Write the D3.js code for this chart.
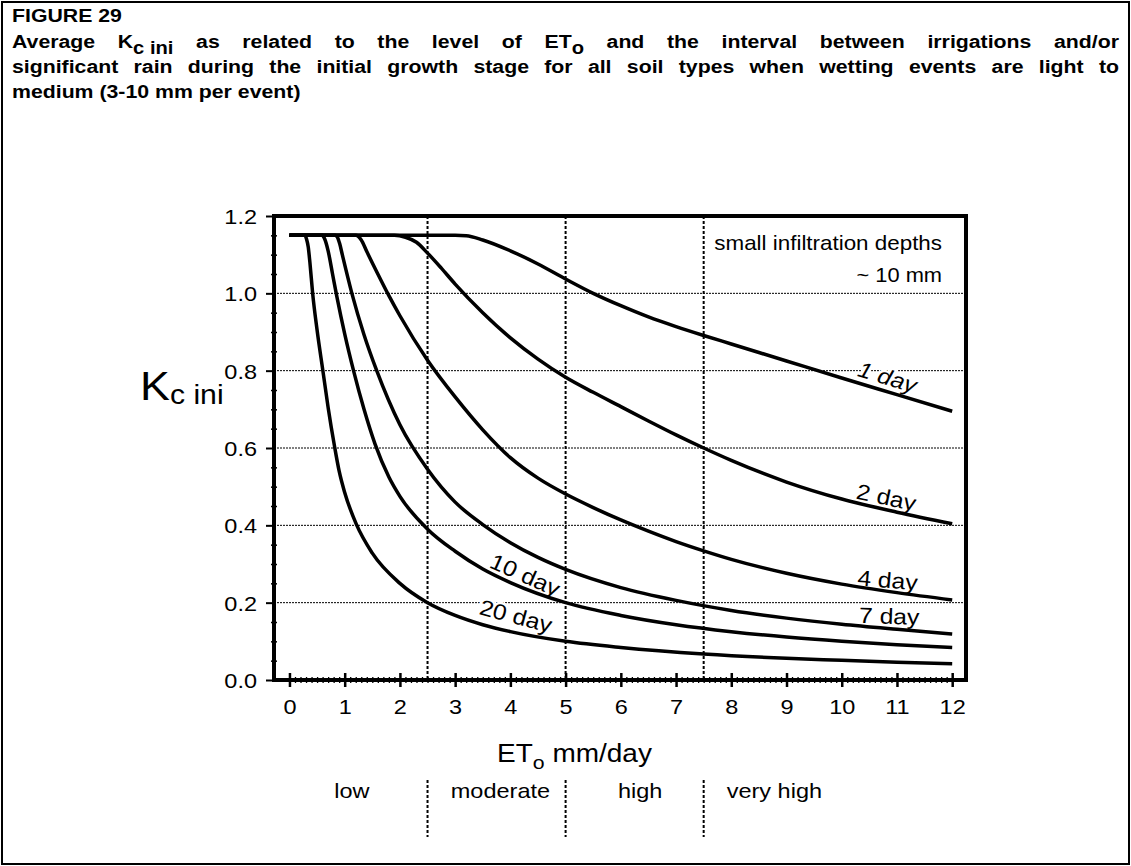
<!DOCTYPE html>
<html><head><meta charset="utf-8">
<script src="https://cdn.jsdelivr.net/npm/d3@7"></script>
<style>
body{margin:0;background:#fff}
svg{display:block}
text{font-family:"Liberation Sans",Arial,Helvetica,sans-serif;fill:#000}
</style>
</head><body>
<svg id="chart" width="1131" height="866"></svg>
<script>
// ---------- DATA ----------
const xTickValues = [0,1,2,3,4,5,6,7,8,9,10,11,12];
const yTickValues = [0,0.2,0.4,0.6,0.8,1.0,1.2];
const gridY = [0.2,0.4,0.6,0.8,1.0];
const classBounds = [2.5,5,7.5];
const classNames = ["low","moderate","high","very high"];
const seriesNames = ["1 day","2 day","4 day","7 day","10 day","20 day"];

const et1 = [0,3.0,3.2,3.5,4.0,4.5,5.0,5.5,6.0,6.5,7.0,7.5,8.0,9.0,10.0,11.0,12.0];
const kc1 = [1.15,1.15,1.149,1.138,1.11,1.076,1.037,1.0,0.968,0.939,0.914,0.891,0.869,0.825,0.781,0.738,0.695];

const et2 = [0,1.9,2.1,2.3,2.5,2.75,3.0,3.5,4.0,4.5,5.0,5.5,6.0,6.5,7.0,7.5,8.0,9.0,10.0,11.0,12.0];
const kc2 = [1.15,1.15,1.145,1.132,1.104,1.065,1.024,0.95,0.885,0.83,0.783,0.744,0.707,0.670,0.634,0.60,0.568,0.512,0.468,0.434,0.404];

const et4 = [0,1.2,1.3,1.4,1.6,1.8,2.0,2.5,3.0,3.5,4.0,4.5,5.0,5.5,6.0,6.5,7.0,7.5,8.0,9.0,10.0,11.0,12.0];
const kc4 = [1.15,1.15,1.138,1.108,1.05,0.994,0.942,0.827,0.732,0.647,0.575,0.522,0.481,0.446,0.414,0.385,0.358,0.334,0.312,0.276,0.248,0.226,0.207];

const et7 = [0,0.83,0.87,0.91,0.96,1.13,1.35,1.58,2.0,2.5,3.0,3.5,4.0,4.5,5.0,6.0,7.0,8.0,9.0,10.0,11.0,12.0];
const kc7 = [1.15,1.15,1.145,1.128,1.098,1.0,0.893,0.8,0.66,0.545,0.46,0.402,0.355,0.317,0.286,0.239,0.206,0.180,0.160,0.144,0.131,0.119];

const et10 = [0,0.59,0.64,0.70,0.78,0.86,1.0,1.16,1.35,1.55,1.8,2.0,2.5,3.0,3.5,4.0,5.0,6.0,7.0,8.0,9.0,10.0,11.0,12.0];
const kc10 = [1.15,1.15,1.14,1.11,1.05,0.99,0.895,0.8,0.70,0.61,0.525,0.475,0.39,0.333,0.287,0.252,0.2,0.167,0.143,0.125,0.111,0.1,0.091,0.084];

const et20 = [0,0.28,0.31,0.34,0.37,0.42,0.5,0.605,0.7,0.815,0.9,1.0,1.21,1.5,2.0,2.5,3.0,3.5,4.0,5.0,6.0,7.5,9.0,10.0,11.0,12.0];
const kc20 = [1.15,1.15,1.14,1.12,1.08,1.0,0.905,0.8,0.705,0.605,0.54,0.485,0.403,0.328,0.25,0.2,0.167,0.143,0.125,0.1,0.084,0.067,0.056,0.051,0.046,0.042];

const seriesX = [et1,et2,et4,et7,et10,et20];
const seriesY = [kc1,kc2,kc4,kc7,kc10,kc20];

const titleLines = [
  ["FIGURE 29"],
  ["Average","K|c ini","as","related","to","the","level","of","ET|o","and","the","interval","between","irrigations","and/or"],
  ["significant","rain","during","the","initial","growth","stage","for","all","soil","types","when","wetting","events","are","light","to"],
  ["medium","(3-10","mm","per","event)"]
];

// ---------- LAYOUT ----------
const SX = 1.12;
const W = 1131, H = 866;
const PL = 274, PR = 966, PT = 216, PB = 680;
const svg = d3.select("#chart");

const x = d3.scaleLinear().domain([-0.28,12.25]).range([PL,PR]);
const y = d3.scaleLinear().domain([0,1.2]).range([PB,PT]);

// outer frame
svg.append("rect").attr("x",2).attr("y",2).attr("width",W-4).attr("height",H-4)
  .attr("fill","none").attr("stroke","#000").attr("stroke-width",2);

// ---------- TITLE (justified) ----------
const titleBase = [22,48,73,98];
const TX0 = 12, TX1 = 1119;
titleLines.forEach((words,li)=>{
  const g = svg.append("g").attr("transform",`translate(${TX0},${titleBase[li]}) scale(${SX},1)`);
  const nodes = words.map(w=>{
    const t = g.append("text").attr("font-size",19).attr("font-weight","bold");
    const parts = w.split("|");
    t.append("tspan").text(parts[0]);
    if (parts[1]) t.append("tspan").attr("dy",6).attr("font-size",18).text(parts[1]);
    return t;
  });
  const widths = nodes.map(n=>n.node().getComputedTextLength());
  const justify = (li===1||li===2);
  const total = d3.sum(widths);
  const avail = (TX1-TX0)/SX;
  const gap = justify ? (avail-total)/(words.length-1) : 5.3;
  let cx = 0;
  nodes.forEach((n,i)=>{ n.select("tspan").attr("x",cx); cx += widths[i]+gap; });
});

// ---------- GRID ----------
const grid = svg.append("g");
grid.selectAll("line.h").data(gridY).join("line")
  .attr("x1",PL).attr("x2",PR).attr("y1",d=>y(d)).attr("y2",d=>y(d))
  .attr("stroke","#000").attr("stroke-width",1).attr("stroke-dasharray","2,1");
grid.selectAll("line.v").data(classBounds).join("line")
  .attr("x1",d=>x(d)).attr("x2",d=>x(d)).attr("y1",PT).attr("y2",PB)
  .attr("stroke","#000").attr("stroke-width",2).attr("stroke-dasharray","3,2");

// ---------- CURVE LABELS (halo knocks out grid) ----------
const labelLayout = [
  {x:10.83,y:0.784,rot:17,italic:true},
  {x:10.81,y:0.473,rot:12},
  {x:10.83,y:0.259,rot:5},
  {x:10.86,y:0.166,rot:2},
  {x:4.27,y:0.272,rot:24},
  {x:4.10,y:0.166,rot:15}
];
function curveLabel(fill){
  const g = svg.append("g");
  seriesNames.forEach((name,i)=>{
    const L = labelLayout[i];
    const t = g.append("text")
      .attr("transform",`translate(${x(L.x)},${y(L.y)}) rotate(${L.rot}) scale(${SX},1)`)
      .attr("text-anchor","middle").attr("dy","0.36em")
      .attr("font-size",22).attr("font-style",L.italic?"italic":"normal")
      .text(name);
    if(!fill) t.attr("fill","#fff").attr("stroke","#fff").attr("stroke-width",5);
  });
}
curveLabel(false);

// ---------- CURVES ----------
const line = d3.line().x(d=>x(d[0])).y(d=>y(d[1])).curve(d3.curveMonotoneX);
svg.append("g").selectAll("path").data(seriesX.map((xs,i)=>xs.map((v,j)=>[v,seriesY[i][j]])))
  .join("path").attr("d",line).attr("fill","none").attr("stroke","#000")
  .attr("stroke-width",3.5).attr("stroke-linejoin","round").attr("stroke-linecap","butt");

curveLabel(true);

// ---------- FRAME ----------
svg.append("rect").attr("x",PL).attr("y",PT).attr("width",PR-PL).attr("height",PB-PT)
  .attr("fill","none").attr("stroke","#000").attr("stroke-width",4);

// ---------- AXES ----------
const FONT = '"Liberation Sans",Arial,Helvetica,sans-serif';
const gy = svg.append("g").attr("transform",`translate(${PL},0)`)
  .call(d3.axisLeft(y).tickValues(yTickValues).tickSize(8).tickFormat(d3.format(".1f")));
gy.attr("font-size",21).attr("font-family",FONT);
gy.select(".domain").remove();
gy.selectAll(".tick line").attr("stroke-width",2);
gy.selectAll(".tick text").attr("x",0).attr("dy","0.36em").attr("transform",`translate(-17,0) scale(${SX},1)`);
const yMinor = d3.range(1,24).map(i=>i*0.05).filter(v=>Math.abs(v*5-Math.round(v*5))>1e-6);
const gym = svg.append("g").attr("transform",`translate(${PL+3},0)`)
  .call(d3.axisLeft(y).tickValues(yMinor).tickSize(6).tickFormat(""));
gym.select(".domain").remove();
gym.selectAll(".tick line").attr("stroke-width",1.5);

const gx = svg.append("g").attr("transform",`translate(0,${PB-7})`)
  .call(d3.axisBottom(x).tickValues(xTickValues).tickSize(14).tickFormat(d3.format("d")));
gx.attr("font-size",21).attr("font-family",FONT);
gx.select(".domain").remove();
gx.selectAll(".tick line").attr("stroke-width",2.5);
gx.selectAll(".tick text").attr("y",0).attr("dy",null).attr("transform",`translate(0,${714-(PB-7)}) scale(${SX},1)`);
const xMinor = d3.range(1,120).map(i=>i/10).filter(v=>Math.abs(v-Math.round(v))>1e-6);
const gxm = svg.append("g").attr("transform",`translate(0,${PB-3})`)
  .call(d3.axisBottom(x).tickValues(xMinor).tickSize(6).tickFormat(""));
gxm.select(".domain").remove();
gxm.selectAll(".tick line").attr("stroke-width",1.3);

// ---------- AXIS TITLES ----------
const yl = svg.append("text").attr("transform",`translate(140,400) scale(${SX},1)`).attr("font-size",40);
yl.append("tspan").text("K");
yl.append("tspan").attr("font-size",27).attr("dy",4).text("c ini");

const xl = svg.append("text").attr("transform",`translate(497,762) scale(${SX},1)`).attr("font-size",25);
xl.append("tspan").text("ET");
xl.append("tspan").attr("font-size",19).attr("dy",7).text("o");
xl.append("tspan").attr("dy",-7).text(" mm/day");

// ---------- ET CLASSES ----------
const classCenters = [1.13,3.82,6.35,8.78];
svg.append("g").selectAll("line").data(classBounds).join("line")
  .attr("x1",d=>x(d)).attr("x2",d=>x(d)).attr("y1",780).attr("y2",837)
  .attr("stroke","#000").attr("stroke-width",2).attr("stroke-dasharray","3,2");
svg.append("g").selectAll("text").data(classNames).join("text")
  .attr("transform",(d,i)=>`translate(${x(classCenters[i])},798) scale(${SX},1)`)
  .attr("text-anchor","middle").attr("font-size",21).text(d=>d);

// ---------- ANNOTATION ----------
svg.append("text").attr("transform",`translate(942,250) scale(${SX},1)`).attr("text-anchor","end").attr("font-size",20).text("small infiltration depths");
svg.append("text").attr("transform",`translate(942,282) scale(${SX},1)`).attr("text-anchor","end").attr("font-size",19.5).text("~ 10 mm");
</script>
</body></html>
